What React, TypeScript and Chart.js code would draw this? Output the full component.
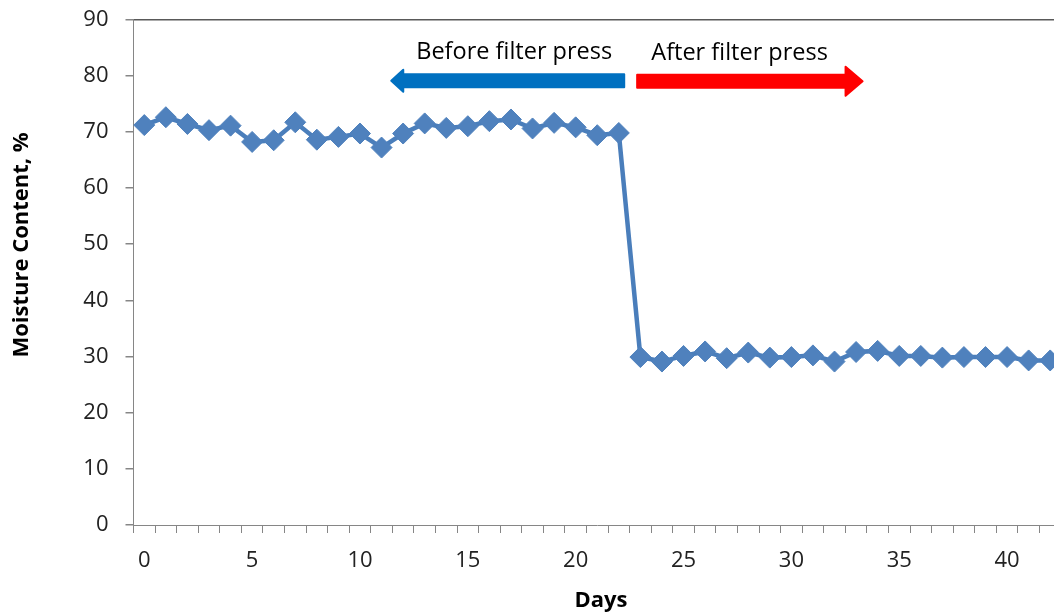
import React, { useEffect, useRef } from 'react';
import { Chart, registerables } from 'chart.js';

Chart.register(...registerables);

const days = ['0','1','2','3','4','5','6','7','8','9','10','11','12','13','14','15','16','17','18','19','20','21','22','23','24','25','26','27','28','29','30','31','32','33','34','35','36','37','38','39','40','41','42'];
const moisture = [71.2, 72.6, 71.4, 70.3, 71.1, 68.2, 68.5, 71.7, 68.6, 69.1, 69.7, 67.2, 69.7, 71.5, 70.7, 71.0, 71.9, 72.2, 70.6, 71.6, 70.8, 69.4, 69.8,
  29.9, 29.1, 30.1, 30.9, 29.7, 30.7, 29.8, 29.9, 30.2, 29.1, 30.8, 31.0, 30.1, 30.1, 29.8, 29.9, 29.9, 29.9, 29.3, 29.3];
const yMin = 0;
const yMax = 90;
const yStep = 10;
const xLabelEvery = 5;
const xTitle = 'Days';
const yTitle = 'Moisture Content, %';

// annotation arrows, in data units (day index, moisture %)
const beforeArrow = { from: 22.25, to: 11.45, value: 79.1, label: 'Before filter press', labelDay: 17.15, labelValue: 84.1 };
const afterArrow = { from: 22.85, to: 33.3, value: 79.0, label: 'After filter press', labelDay: 27.6, labelValue: 84.0 };

const FONT = '"Open Sans"';

const arrowPlugin = {
  id: 'filterArrows',
  afterDatasetsDraw(chart: any) {
    const { ctx } = chart;
    const xs = chart.scales.x;
    const ys = chart.scales.y;
    const drawArrow = (a: any, color: string, shaftH: number, headH: number, headL: number) => {
      const x0 = xs.getPixelForValue(a.from);
      const x1 = xs.getPixelForValue(a.to);
      const yc = ys.getPixelForValue(a.value);
      const dir = Math.sign(x1 - x0);
      const xb = x1 - dir * headL;
      ctx.save();
      ctx.fillStyle = color;
      ctx.strokeStyle = color;
      ctx.lineWidth = 2;
      ctx.lineJoin = 'round';
      ctx.beginPath();
      ctx.moveTo(x0, yc - shaftH / 2);
      ctx.lineTo(xb, yc - shaftH / 2);
      ctx.lineTo(xb, yc - headH / 2);
      ctx.lineTo(x1, yc);
      ctx.lineTo(xb, yc + headH / 2);
      ctx.lineTo(xb, yc + shaftH / 2);
      ctx.lineTo(x0, yc + shaftH / 2);
      ctx.closePath();
      ctx.fill();
      ctx.stroke();
      ctx.fillStyle = '#000';
      ctx.font = `23.5px ${FONT}`;
      ctx.textAlign = 'center';
      ctx.textBaseline = 'middle';
      ctx.fillText(a.label, xs.getPixelForValue(a.labelDay), ys.getPixelForValue(a.labelValue));
      ctx.restore();
    };
    drawArrow(beforeArrow, '#0070C0', 13, 22, 12);
    drawArrow(afterArrow, '#FF0000', 13, 29, 17);
  },
  afterDraw(chart: any) {
    const { ctx } = chart;
    ctx.save();
    ctx.fillStyle = '#000';
    ctx.font = `bold 22px ${FONT}`;
    ctx.textAlign = 'center';
    ctx.textBaseline = 'middle';
    ctx.fillText(xTitle, 601, 601);
    ctx.translate(22, 245);
    ctx.rotate(-Math.PI / 2);
    ctx.fillText(yTitle, 0, 0);
    ctx.restore();
  },
};

export default function App() {
  const ref = useRef<HTMLCanvasElement>(null);
  useEffect(() => {
    if (!ref.current) return;
    const chart = new Chart(ref.current, {
      type: 'line',
      data: {
        labels: days,
        datasets: [
          {
            data: moisture,
            borderColor: '#4A7EBB',
            backgroundColor: '#4F81BD',
            borderWidth: 4.5,
            pointStyle: 'rectRot',
            pointRadius: 10.5,
            pointBorderWidth: 1,
            pointBorderColor: '#4F81BD',
            pointBackgroundColor: '#4F81BD',
            tension: 0,
            clip: false as any,
          },
        ],
      },
      plugins: [arrowPlugin],
      options: {
        animation: false,
        responsive: true,
        maintainAspectRatio: false,
        layout: { autoPadding: false, padding: { top: 19.5, right: 0, left: 0, bottom: 0 } },
        plugins: { legend: { display: false }, tooltip: { enabled: false } },
        scales: {
          x: {
            type: 'category',
            offset: true,
            afterFit: (s: any) => { s.height = 90; s.paddingLeft = 0; s.paddingRight = 0; },
            border: { display: true, color: '#868686', width: 1 },
            grid: {
              offset: true,
              drawOnChartArea: false,
              drawTicks: true,
              tickLength: 8,
              tickColor: '#868686',
            },
            ticks: {
              autoSkip: false,
              maxRotation: 0,
              minRotation: 0,
              padding: 15,
              color: '#222',
              font: { family: FONT, size: 22 },
              callback: (_v: any, i: number) => (Number(days[i]) % xLabelEvery === 0 ? days[i] : ''),
            },
          },
          y: {
            min: yMin,
            max: yMax,
            afterFit: (s: any) => { s.width = 133.5; s.paddingTop = 0; s.paddingBottom = 0; },
            border: { display: true, color: '#868686', width: 1 },
            grid: {
              drawTicks: true,
              tickLength: 8,
              tickColor: '#868686',
              color: (c: any) => (c.tick && c.tick.value === yMax ? '#595959' : 'rgba(0,0,0,0)'),
              lineWidth: 1.5,
            },
            ticks: {
              stepSize: yStep,
              padding: 17,
              color: '#222',
              font: { family: FONT, size: 22 },
            },
          },
        },
      },
    });
    return () => chart.destroy();
  }, []);
  return (
    <div style={{ position: 'fixed', left: 0, top: 0, width: 1054, height: 615, overflow: 'hidden', background: '#fff' }}>
      <div style={{ width: 1061, height: 615, position: 'relative' }}>
        <canvas ref={ref} />
      </div>
    </div>
  );
}
